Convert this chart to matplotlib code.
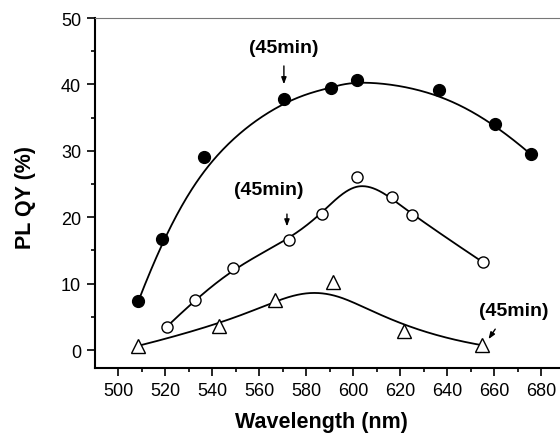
import numpy as np
import matplotlib
matplotlib.use('Agg')
import matplotlib.pyplot as plt
from matplotlib.ticker import MultipleLocator

plt.rcParams['font.family'] = ['Liberation Sans', 'DejaVu Sans']

# filled circles
wl_a = [508.6, 518.8, 536.6, 570.5, 590.7, 601.4, 636.3, 660.3, 675.5]
qy_a = [7.4, 16.7, 29.1, 37.8, 39.5, 40.7, 39.2, 34.1, 29.5]
# open circles
wl_b = [520.6, 532.5, 548.7, 572.5, 586.6, 601.4, 616.6, 625.2, 655.3]
qy_b = [3.5, 7.5, 12.4, 16.6, 20.5, 26.0, 23.0, 20.3, 13.2]
# open triangles
wl_c = [508.6, 542.7, 566.6, 591.4, 621.4, 654.6]
qy_c = [0.65, 3.7, 7.5, 10.2, 2.8, 0.75]


def bspline(x, y, k=3, n=400):
    # clamped uniform B-spline using the data points as control points
    P = np.column_stack([x, y])
    m = len(P)
    inner = np.linspace(0, 1, m - k + 1)
    t = np.concatenate([[0] * k, inner, [1] * k])
    u = np.linspace(0, 1, n)
    u[-1] -= 1e-9
    # Cox-de Boor
    N = np.zeros((n, len(t) - 1))
    for i in range(len(t) - 1):
        N[:, i] = (u >= t[i]) & (u < t[i + 1])
    for d in range(1, k + 1):
        Nn = np.zeros((n, len(t) - 1 - d))
        for i in range(len(t) - 1 - d):
            a = 0.0
            if t[i + d] > t[i]:
                a = (u - t[i]) / (t[i + d] - t[i]) * N[:, i]
            b = 0.0
            if t[i + d + 1] > t[i + 1]:
                b = (t[i + d + 1] - u) / (t[i + d + 1] - t[i + 1]) * N[:, i + 1]
            Nn[:, i] = a + b
        N = Nn
    C = N @ P
    return C[:, 0], C[:, 1]


fig = plt.figure(figsize=(5.6, 4.35), dpi=100)
ax = fig.add_axes([0.1696, 0.1517, 0.8304, 0.8046])

for xs, ys in [(wl_a, qy_a), (wl_b, qy_b), (wl_c, qy_c)]:
    cx, cy = bspline(xs, ys)
    ax.plot(cx, cy, color='black', lw=1.3)

ax.plot(wl_a, qy_a, 'o', ms=8.5, mfc='black', mec='black', ls='none')
ax.plot(wl_b, qy_b, 'o', ms=8, mfc='white', mec='black', mew=1.0, ls='none')
ax.plot(wl_c, qy_c, '^', ms=9.5, mfc='white', mec='black', mew=1.0, ls='none')

akw = dict(arrowstyle='-|>,head_length=0.4,head_width=0.15', color='black', lw=1.0)
fs = 14
ax.annotate('', xy=(570.5, 39.6), xytext=(570.5, 43.2), arrowprops=akw)
ax.text(570.5, 45.5, '(45min)', ha='center', va='center', fontsize=fs, fontweight='bold')
ax.annotate('', xy=(571.8, 18.2), xytext=(571.8, 20.9), arrowprops=akw)
ax.text(564.2, 24.2, '(45min)', ha='center', va='center', fontsize=fs, fontweight='bold')
ax.annotate('', xy=(656.9, 1.3), xytext=(661.1, 3.5), arrowprops=akw)
ax.text(668.5, 6.0, '(45min)', ha='center', va='center', fontsize=fs, fontweight='bold')

ax.set_xlim(490.1, 688)
ax.set_ylim(-2.7, 50)
ax.xaxis.set_major_locator(MultipleLocator(20))
ax.xaxis.set_minor_locator(MultipleLocator(10))
ax.yaxis.set_major_locator(MultipleLocator(10))
ax.yaxis.set_minor_locator(MultipleLocator(5))
ax.tick_params(which='major', direction='out', length=6, width=1.2, labelsize=13, pad=4)
ax.tick_params(which='minor', direction='out', length=3, width=1.2)
ax.spines['right'].set_visible(False)
ax.spines['top'].set_color('#777777')
ax.spines['top'].set_linewidth(0.8)
ax.spines['left'].set_linewidth(1.5)
ax.spines['bottom'].set_linewidth(1.5)

ax.set_xlabel('Wavelength (nm)', fontsize=15.5, fontweight='bold', va='center')
ax.set_ylabel('PL QY (%)', fontsize=15.5, fontweight='bold', va='center')
ax.xaxis.set_label_coords(0.488, -0.154)
ax.yaxis.set_label_coords(-0.15, 0.489)

fig.savefig('out.png', dpi=100)
